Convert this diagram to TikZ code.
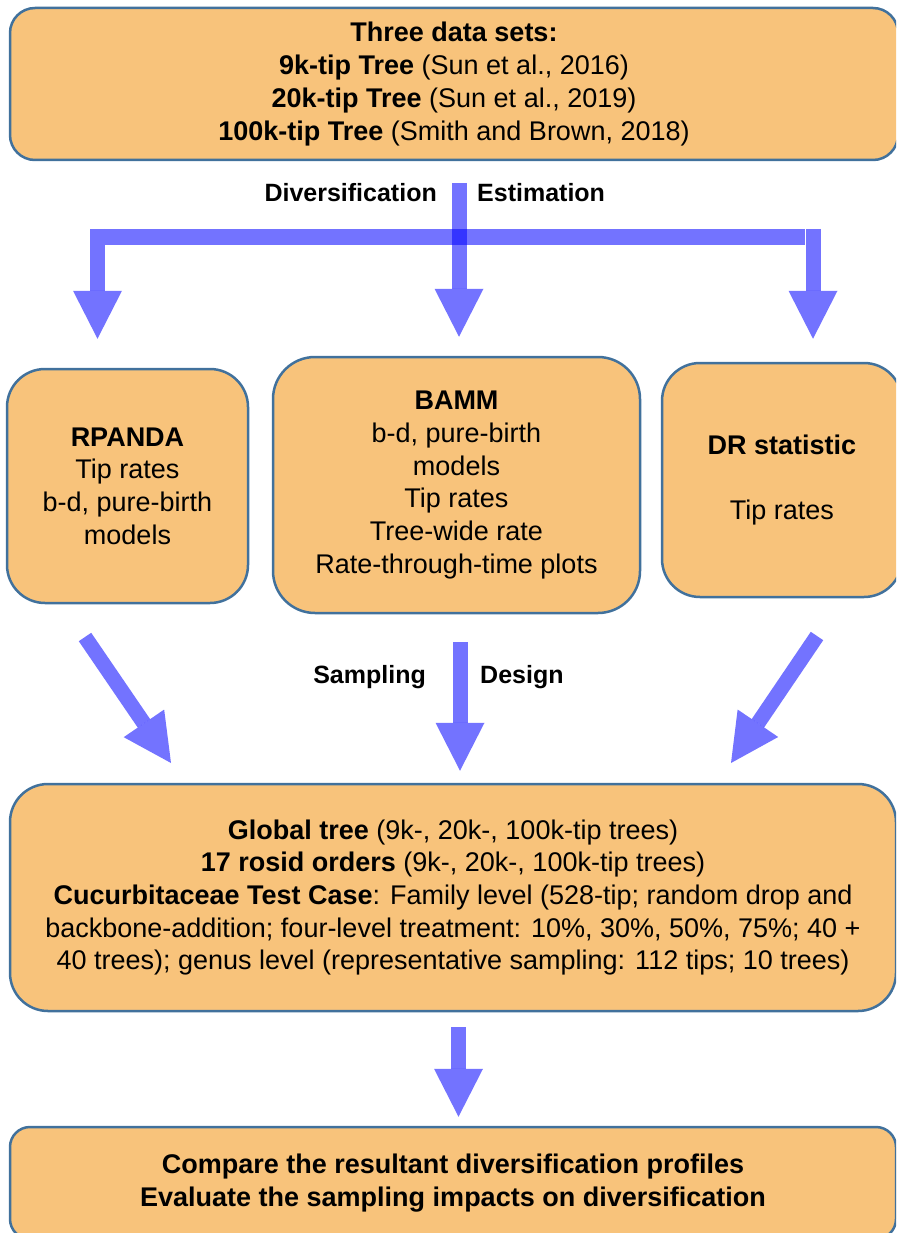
\documentclass[tikz,border=0pt]{standalone}
\usepackage{fontspec}
\setmainfont{Liberation Sans}
\usetikzlibrary{arrows.meta}
\definecolor{boxfill}{HTML}{F8C37B}
\definecolor{boxline}{HTML}{41719C}
\definecolor{flowblue}{HTML}{0000FF}

\begin{document}
\begin{tikzpicture}[x=1pt,y=-1pt,
  stage/.style={draw=boxline,fill=boxfill,line width=2.5pt,rounded corners=#1,inner sep=0pt,align=center,font=\fontsize{27}{32.7}\selectfont},
  stage/.default=25pt,
  bigarrow/.style={draw=flowblue,opacity=0.55,line width=15pt,-{Triangle[width=49pt,length=48pt,line width=0pt,fill=flowblue]}},
  bar/.style={draw=flowblue,opacity=0.55,line width=16pt},
  tag/.style={font=\fontsize{25}{30}\selectfont\bfseries,inner sep=0pt}]
	\path[use as bounding box,clip] (0,0) rectangle (896,1233);
	\node[stage=25pt,minimum width=888pt,minimum height=152pt] (data) at (454,84) {\textbf{Three data sets:}\\\textbf{9k-tip Tree} (Sun et al., 2016)\\\textbf{20k-tip Tree} (Sun et al., 2019)\\\textbf{100k-tip Tree} (Smith and Brown, 2018)};
	\node[stage=38pt,minimum width=241pt,minimum height=234pt] (rpanda) at (127.5,486) {\textbf{RPANDA}\\Tip rates\\b-d, pure-birth\\models};
	\node[stage=42pt,minimum width=367pt,minimum height=256pt] (bamm) at (456.5,485) {\textbf{BAMM}\\b-d, pure-birth\\models\\Tip rates\\Tree-wide rate\\Rate-through-time plots};
	\node[stage=38pt,minimum width=240pt,minimum height=234pt] (dr) at (782,480) {\textbf{DR statistic}\\[32.7pt]Tip rates};
	\node[stage=38pt,minimum width=886pt,minimum height=227pt] (design) at (453,897.5) {\textbf{Global tree} (9k-, 20k-, 100k-tip trees)\\\textbf{17 rosid orders} (9k-, 20k-, 100k-tip trees)\\\textbf{Cucurbitaceae Test Case}: Family level (528-tip; random drop and\\backbone-addition; four-level treatment: 10\%, 30\%, 50\%, 75\%; 40 +\\40 trees); genus level (representative sampling: 112 tips; 10 trees)};
	\node[stage=20pt,minimum width=886pt,minimum height=112pt] (compare) at (453,1183) {\textbf{Compare the resultant diversification profiles}\\\textbf{Evaluate the sampling impacts on diversification}};
	\coordinate (src) at (459,183);
	\coordinate (forkL) at (97.5,229);
	\coordinate (forkR) at (813,229);
	\coordinate (barL) at (105,237);
	\coordinate (barR) at (805,237);
	\draw[bar] (barL) -- (barR);
	\draw[bigarrow,shorten >=19pt] (src) -- (src |- bamm.north);
	\draw[bigarrow,shorten >=29pt] (forkL) -- (forkL |- rpanda.north);
	\draw[bigarrow,shorten >=23pt] (forkR) -- (forkR |- dr.north);
	\node[tag,anchor=east] (divlab) at (437,193) {Diversification};
	\node[tag,anchor=west] (estlab) at (477,193) {Estimation};
	\coordinate (leftout) at (85,637);
	\coordinate (leftin) at (171,763);
	\coordinate (rightout) at (817,636);
	\coordinate (rightin) at (731,763);
	\coordinate (midout) at (460,642);
	\draw[bigarrow] (leftout) -- (leftin);
	\draw[bigarrow] (rightout) -- (rightin);
	\draw[bigarrow,shorten >=12pt] (midout) -- (midout |- design.north);
	\node[tag,anchor=east] (samplab) at (426,677) {Sampling};
	\node[tag,anchor=west] (desilab) at (480,677) {Design};
	\coordinate (lastout) at (458.5,1027);
	\draw[bigarrow,shorten >=9pt] (lastout) -- (lastout |- compare.north);
\end{tikzpicture}
\end{document}
